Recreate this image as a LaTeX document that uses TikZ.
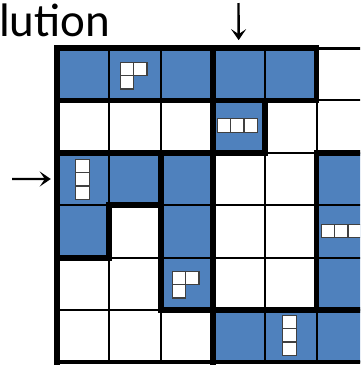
\documentclass[tikz,border=0pt]{standalone}
\usepackage{fontspec}
\setmainfont{Carlito}
\usetikzlibrary{arrows.meta,positioning}

\definecolor{cellblue}{HTML}{4F81BD}
\tikzset{
	thinline/.style={line width=2pt,line cap=rect},
	thickline/.style={line width=5.8pt,line cap=rect},
	piececell/.style={draw=black!75,fill=white,line width=1.1pt,minimum size=13.3pt,inner sep=0pt,outer sep=0pt},
	pointer/.style={-{Stealth[length=11pt,width=15pt,inset=5pt]},line width=2.4pt}
}

\begin{document}
\begin{tikzpicture}[x=1pt,y=-1pt]

	\useasboundingbox (0,0) rectangle (360,365);
	\clip (0,0) rectangle (360,365);

	\begin{scope}[shift={(57pt,-48pt)},x=51.9pt,y=-52.4pt]
		% blue cells
		\foreach \col/\row in {0/0,1/0,2/0,3/0,4/0,3/1,0/2,1/2,2/2,5/2,0/3,2/3,5/3,2/4,5/4,3/5,4/5,5/5}
			\fill [cellblue] (\col,\row) rectangle +(1,1);
		% thin grid
		\foreach \i in {1,...,6} \draw [thinline] (0,\i) -- (6.2,\i);
		\foreach \i in {1,...,5} \draw [thinline] (\i,0) -- (\i,6);
		\draw [line width=3pt] (5,0) -- (6.2,0);
		% thick walls
		\draw [thickline] (0,6) -- (0,0) -- (5,0) -- (5,1) -- (2,1);
		\draw [thickline] (0,1) -- (3,1);
		\draw [thickline] (3,0) -- (3,6);
		\draw [thickline] (4,1) -- (4,2) -- (0,2);
		\draw [thickline] (2,2) -- (2,5) -- (6.2,5);
		\draw [thickline] (0,4) -- (1,4) -- (1,3) -- (2,3);
		\draw [thickline] (5,2) -- (5,5);
		\draw [thickline] (5,2) -- (6.2,2);
		\draw [line width=4pt] (-0.04,6) -- (6.2,6);
		\coordinate (gridtop) at (3.5,-0.15);
		\coordinate (gridleft) at (-0.12,2.5);
	\end{scope}

	% pieces
	\node [piececell] at (127,69)	(a_1)	{};
	\node [piececell] at (140.3,69)	(a_2)	{};
	\node [piececell] at (127,82.3)	(a_3)	{};

	\node [piececell] at (179,278)	(b_1)	{};
	\node [piececell] at (192.3,278)	(b_2)	{};
	\node [piececell] at (179,291.3)	(b_3)	{};

	\foreach \i in {0,1,2} {
		\node [piececell] at (224+13.3*\i,125.5)	(c_\i)	{};
		\node [piececell] at (328+13.3*\i,231)		(d_\i)	{};
		\node [piececell] at (82.5,166+13.3*\i)		(e_\i)	{};
		\node [piececell] at (289.5,322+13.3*\i)	(f_\i)	{};
	}

	\node [anchor=base west,inner sep=0pt,font=\fontsize{47}{47}\selectfont] at (-1,36.5)	(title)	{lution};

	\coordinate (downstart) at (238.5,3);
	\coordinate (rightstart) at (12,179);
	\draw [pointer] (downstart) -- (gridtop);
	\draw [pointer] (rightstart) -- (gridleft);

\end{tikzpicture}
\end{document}
